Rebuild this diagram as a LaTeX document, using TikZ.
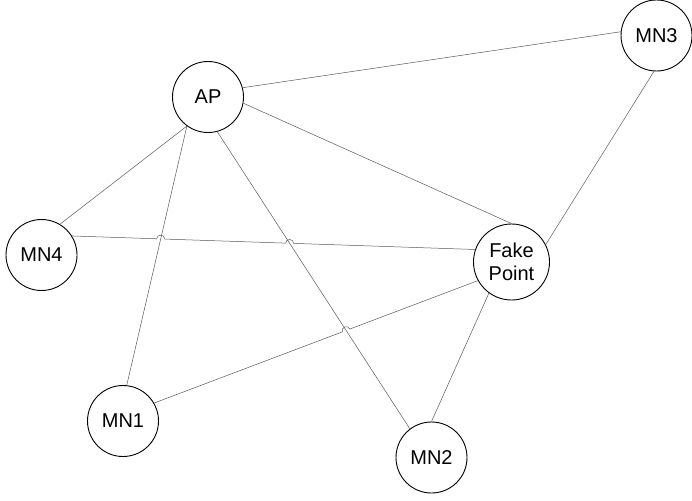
\documentclass[tikz,border=0pt]{standalone}
\usepackage{fontspec}
\setmainfont{Liberation Sans}
\usetikzlibrary{calc,intersections}
\begin{document}
\begin{tikzpicture}[x=1pt,y=-1pt,
  station/.style={circle, draw=black, line width=0.9pt, minimum size=71pt,
    inner sep=0pt, align=center, font=\fontsize{20}{23}\selectfont},
  link/.style={draw=black!65, line width=0.5pt},
  hop/.style={bend left=90, looseness=1.6}]
\useasboundingbox (0,0) rectangle (692,500);

% stations
\node[station] (AP)   at (208,97)    {AP};
\node[station] (MN3)  at (656.5,35.5){MN3};
\node[station] (MN4)  at (41.5,255)  {MN4};
\node[station] (MN1)  at (123,421)   {MN1};
\node[station] (MN2)  at (431.5,457.5){MN2};
\node[station, minimum size=76pt] (FP) at (511.5,262) {Fake\\Point};

% plain links
\draw[link] (AP.15)   -- (MN3.174);
\draw[link] (AP.-10)  -- (FP.90);
\draw[link] (AP.234)  -- (MN4.59);
\draw[link, name path=apmn1] (AP.234) -- (MN1.84);
\draw[link, name path=apmn2] (AP.-75) -- (MN2.127);
\draw[link] (MN3.266) -- (FP.27);
\draw[link] (FP.234)  -- (MN2.90);

% links that hop over the crossing lines
\path[name path=mn4fp] (MN4.32) -- (FP.161);
\path[name path=mn1fp] (MN1.30) -- (FP.209);
\path[name intersections={of=mn4fp and apmn1, by=c1}];
\path[name intersections={of=mn4fp and apmn2, by=c2}];
\path[name intersections={of=mn1fp and apmn2, by=c3}];

\draw[link] (MN4.32) -- ($(c1)!4pt!(MN4.32)$) to[hop] ($(c1)!4pt!(FP.161)$)
  -- ($(c2)!4pt!(MN4.32)$) to[hop] ($(c2)!4pt!(FP.161)$) -- (FP.161);
\draw[link] (MN1.30) -- ($(c3)!4pt!(MN1.30)$) to[hop] ($(c3)!4pt!(FP.209)$)
  -- (FP.209);
\end{tikzpicture}
\end{document}
